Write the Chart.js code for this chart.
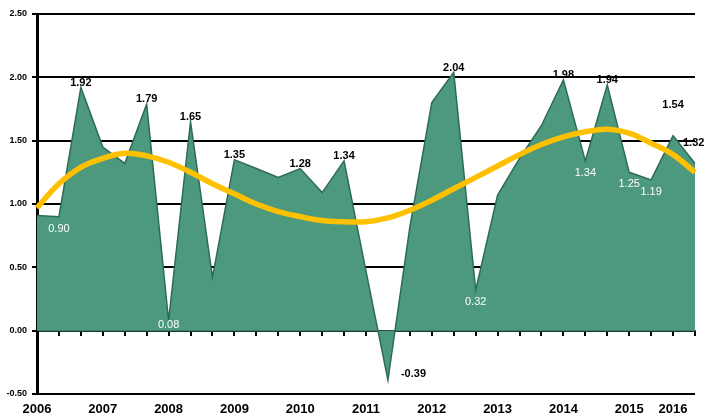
<!DOCTYPE html>
<html>
<head>
<meta charset="utf-8">
<script src="https://cdn.jsdelivr.net/npm/chart.js@4"></script>
<style>
html,body{margin:0;padding:0;background:#fff;}
#wrap{width:707px;height:415px;position:relative;}
</style>
</head>
<body>
<div id="wrap"><canvas id="c"></canvas></div>
<script>
// x categories (one point every four months, 2006 - 2016)
const categories = ['2006','','','2007','','','2008','','','2009','','','2010','','','2011','','','2012','','','2013','','','2014','','','2015','','2016',''];
// main series
const values = [0.91,0.90,1.92,1.45,1.32,1.79,0.08,1.65,0.42,1.35,1.28,1.21,1.28,1.09,1.34,0.47,-0.39,0.82,1.80,2.04,0.32,1.07,1.36,1.62,1.98,1.34,1.94,1.25,1.19,1.54,1.32];
// trend line
const trend = [0.97,1.16,1.29,1.36,1.40,1.38,1.33,1.25,1.16,1.08,1.00,0.94,0.90,0.87,0.86,0.86,0.89,0.95,1.03,1.12,1.21,1.30,1.39,1.47,1.53,1.57,1.59,1.56,1.48,1.39,1.25];
// data labels shown on the chart
const valueLabels = [null,'0.90','1.92',null,null,'1.79','0.08','1.65',null,'1.35',null,null,'1.28',null,'1.34',null,'-0.39',null,null,'2.04','0.32',null,null,null,'1.98','1.34','1.94','1.25','1.19','1.54','1.32'];
// y tick labels
const yTicks = [-0.5,0,0.5,1,1.5,2,2.5];

const FONT = '"Liberation Sans", Arial, sans-serif';

const labelPlugin = {
  id: 'valueLabels',
  afterDatasetsDraw(chart) {
    const meta = chart.getDatasetMeta(1);
    const zeroY = chart.scales.y.getPixelForValue(0);
    const ctx = chart.ctx;
    const n = values.length;
    ctx.save();
    meta.data.forEach((pt, i) => {
      const txt = valueLabels[i];
      if (!txt) return;
      const v = values[i];
      const prev = i > 0 ? values[i-1] : -Infinity;
      const next = i < n - 1 ? values[i+1] : -Infinity;
      if (i === n - 1) {
        ctx.font = 'bold 11px ' + FONT;
        ctx.fillStyle = '#000';
        ctx.textAlign = 'left';
        ctx.textBaseline = 'middle';
        ctx.fillText(txt, pt.x - 12, pt.y - 20);
      } else if (v < 0) {
        ctx.font = 'bold 11px ' + FONT;
        ctx.fillStyle = '#000';
        ctx.textAlign = 'left';
        ctx.textBaseline = 'middle';
        ctx.fillText(txt, pt.x + 13, pt.y - 6);
      } else if (v >= prev && v >= next) {
        ctx.font = 'bold 11px ' + FONT;
        ctx.fillStyle = '#000';
        ctx.textAlign = 'center';
        ctx.textBaseline = 'bottom';
        const lift = (i === n - 2) ? 26 : 0;
        ctx.fillText(txt, pt.x, pt.y + 1 - lift);
      } else {
        ctx.font = '11px ' + FONT;
        ctx.fillStyle = '#fff';
        ctx.textAlign = 'center';
        ctx.textBaseline = 'middle';
        const y = Math.min(pt.y + 12, zeroY - 6);
        ctx.fillText(txt, pt.x, y);
      }
    });
    ctx.restore();
  }
};

new Chart(document.getElementById('c'), {
  type: 'line',
  data: {
    labels: categories,
    datasets: [
      {
        label: 'Trend',
        data: trend,
        borderColor: '#FFC000',
        borderWidth: 5.5,
        pointRadius: 0,
        fill: false,
        tension: 0.4
      },
      {
        label: 'Value',
        data: values,
        borderColor: '#2E6B55',
        borderWidth: 1.5,
        backgroundColor: '#4C997D',
        pointRadius: 0,
        fill: 'origin',
        tension: 0
      }
    ]
  },
  options: {
    responsive: true,
    maintainAspectRatio: false,
    animation: false,
    events: [],
    layout: { padding: { top: 14, right: 12, left: 0, bottom: 0 } },
    plugins: { legend: { display: false }, tooltip: { enabled: false } },
    scales: {
      x: {
        type: 'category',
        grid: { display: false },
        border: { display: false },
        ticks: {
          autoSkip: false,
          maxRotation: 0,
          minRotation: 0,
          padding: 0,
          color: '#000',
          font: { family: FONT, size: 13, weight: 'bold' }
        },
        afterFit(scale) { scale.height = 21; }
      },
      x2: {
        type: 'category',
        position: { y: 0 },
        z: 1,
        grid: { drawOnChartArea: false, drawTicks: true, tickLength: 4, color: '#000', lineWidth: 2 },
        border: { display: true, color: '#1B3D2E', width: 2 },
        ticks: { display: false, autoSkip: false }
      },
      y: {
        min: -0.5,
        max: 2.5,
        afterBuildTicks(scale) { scale.ticks = yTicks.map(v => ({ value: v })); },
        grid: { color: '#000', lineWidth: 2, drawTicks: true, tickLength: 5 },
        border: { display: true, color: '#000', width: 3 },
        ticks: {
          padding: 5,
          color: '#000',
          font: { family: FONT, size: 9, weight: 'bold' },
          callback: (v) => Number(v).toFixed(2)
        },
        afterFit(scale) { scale.width = 37; }
      }
    }
  },
  plugins: [labelPlugin]
});
</script>
</body>
</html>
